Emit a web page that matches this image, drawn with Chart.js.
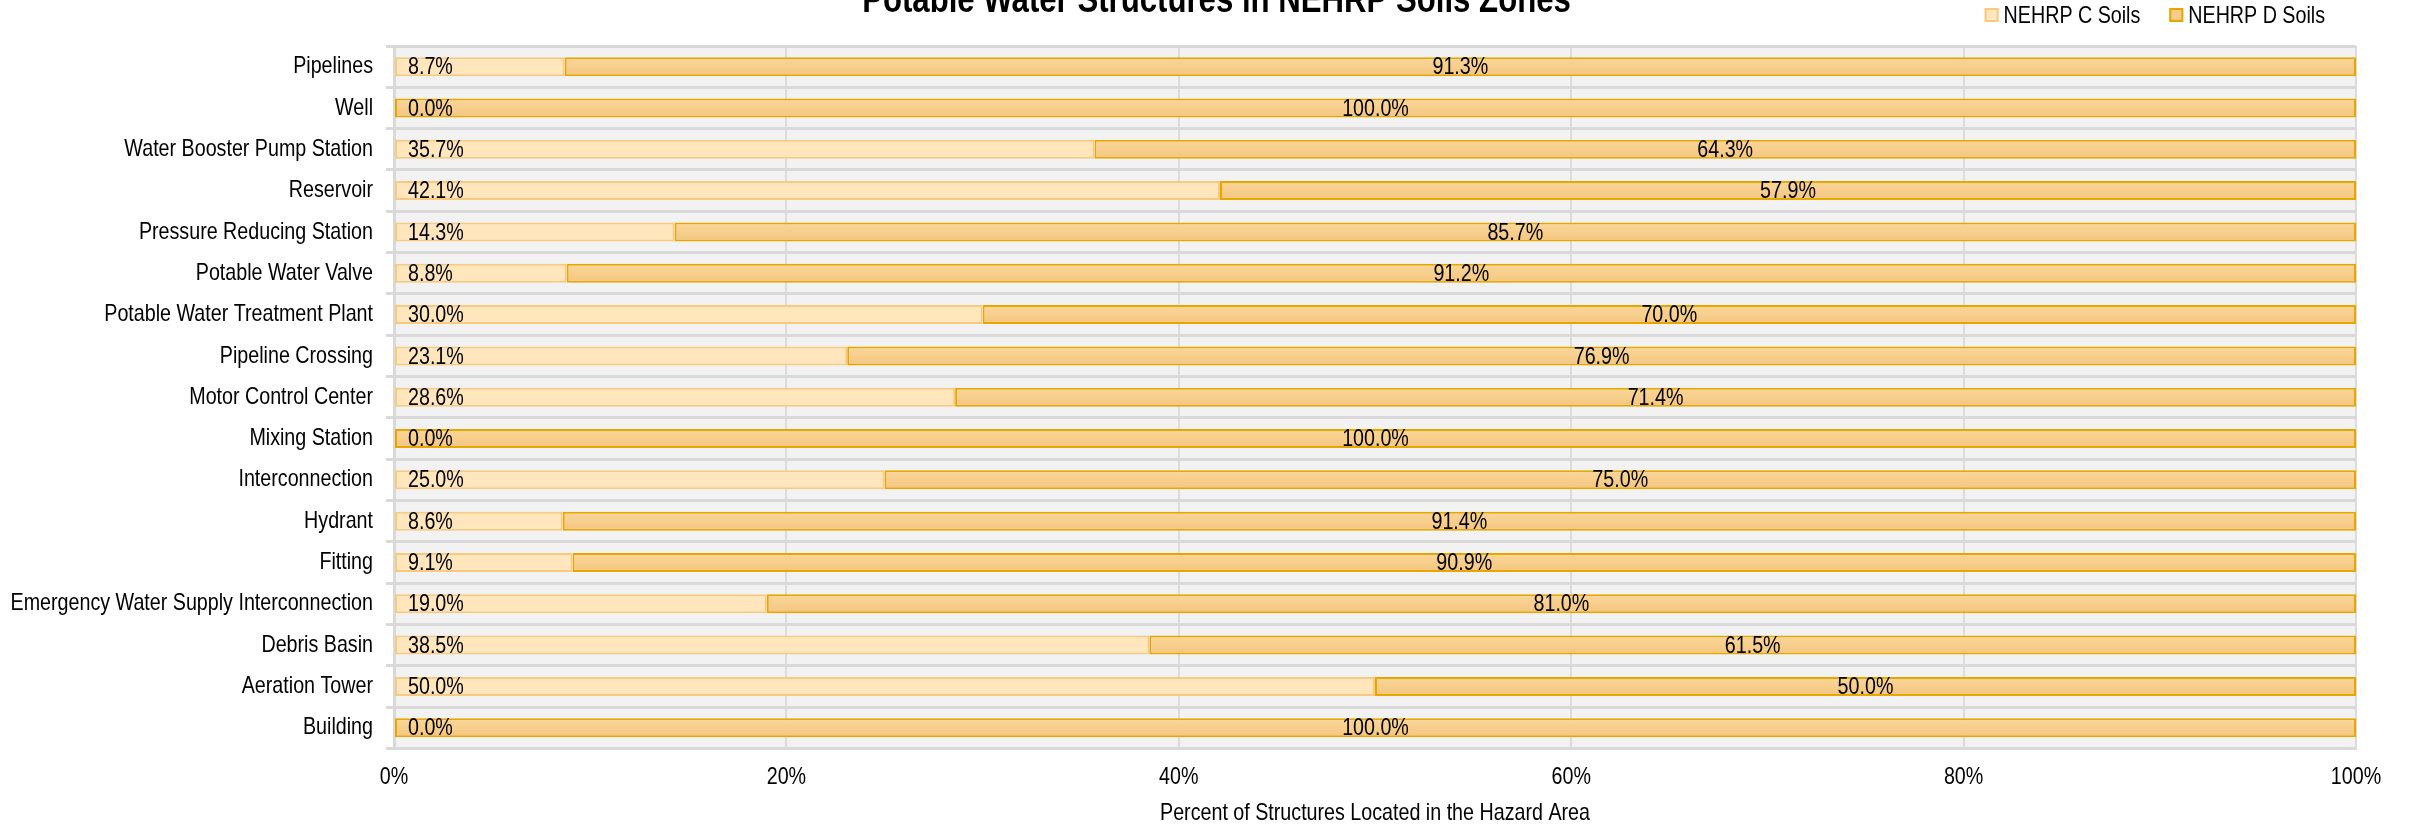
<!DOCTYPE html>
<html>
<head>
<meta charset="utf-8">
<title>Potable Water Structures in NEHRP Soils Zones</title>
<script src="https://cdn.jsdelivr.net/npm/chart.js@4.4.1/dist/chart.umd.min.js"></script>
<style>
  html, body { margin: 0; padding: 0; background: #ffffff; }
  canvas { display: block; }
</style>
</head>
<body>
<canvas id="soilChart" width="2413" height="828"></canvas>
<script>
// structure types, listed top to bottom
const structureTypes = [
    'Pipelines',
    'Well',
    'Water Booster Pump Station',
    'Reservoir',
    'Pressure Reducing Station',
    'Potable Water Valve',
    'Potable Water Treatment Plant',
    'Pipeline Crossing',
    'Motor Control Center',
    'Mixing Station',
    'Interconnection',
    'Hydrant',
    'Fitting',
    'Emergency Water Supply Interconnection',
    'Debris Basin',
    'Aeration Tower',
    'Building'
];

// percent of each structure type per soil class
const soilC = [8.7, 0.0, 35.7, 42.1, 14.3, 8.8, 30.0, 23.1, 28.6, 0.0, 25.0, 8.6, 9.1, 19.0, 38.5, 50.0, 0.0];
const soilD = [91.3, 100.0, 64.3, 57.9, 85.7, 91.2, 70.0, 76.9, 71.4, 100.0, 75.0, 91.4, 90.9, 81.0, 61.5, 50.0, 100.0];

const seriesNames = ['NEHRP C Soils', 'NEHRP D Soils'];
const chartTitle = 'Potable Water Structures in NEHRP Soils Zones';
const axisTitle = 'Percent of Structures Located in the Hazard Area';

const xTickStep = 20;
const xMax = 100;

const FONT = '"Liberation Sans", Arial, sans-serif';
const NARROW = 0.82;   // squeeze text horizontally, like a narrow face

const cFill = '#ffe6bd';
const cEdge = '#f8ca80';
const dFlat = '#f7cd8c';
const dEdge = '#e6a700';

const canvas = document.getElementById('soilChart');
const ctx = canvas.getContext('2d');

// no narrow font installed, so condense all text drawn on this context
const measureText = ctx.measureText.bind(ctx);
const fillText = ctx.fillText.bind(ctx);
ctx.measureText = text => {
    const m = measureText(text);
    return {
        width: m.width * NARROW,
        actualBoundingBoxAscent: m.actualBoundingBoxAscent,
        actualBoundingBoxDescent: m.actualBoundingBoxDescent,
        actualBoundingBoxLeft: m.actualBoundingBoxLeft * NARROW,
        actualBoundingBoxRight: m.actualBoundingBoxRight * NARROW
    };
};
ctx.fillText = (text, x, y, maxWidth) => {
    ctx.save();
    ctx.translate(x, y);
    ctx.scale(NARROW, 1);
    if (maxWidth === undefined || maxWidth === null) {
        fillText(text, 0, 0);
    } else {
        fillText(text, 0, 0, maxWidth / NARROW);
    }
    ctx.restore();
};

// soft top-to-bottom shading on the D bars
function dFill(context) {
    const chart = context.chart;
    const yScale = chart.scales.y;
    if (!yScale || context.dataIndex === undefined) return dFlat;
    const y = yScale.getPixelForValue(context.dataIndex);
    if (!Number.isFinite(y)) return dFlat;
    const g = chart.ctx.createLinearGradient(0, y - 10, 0, y + 10);
    g.addColorStop(0, '#fad79a');
    g.addColorStop(1, '#f4c57f');
    return g;
}

// grey plot background behind the grid
const plotBackground = {
    id: 'plotBackground',
    beforeDraw(chart) {
        const { ctx, chartArea } = chart;
        ctx.save();
        ctx.fillStyle = '#f2f2f2';
        ctx.fillRect(chartArea.left, chartArea.top, chartArea.right - chartArea.left, chartArea.bottom - chartArea.top);
        ctx.restore();
    }
};

// percentage labels: C at the left of the bar, D centred on its segment
const barLabels = {
    id: 'barLabels',
    afterDatasetsDraw(chart) {
        const { ctx, chartArea } = chart;
        ctx.save();
        ctx.font = '24px ' + FONT;
        ctx.fillStyle = '#000000';
        ctx.textBaseline = 'middle';

        chart.getDatasetMeta(0).data.forEach((bar, i) => {
            ctx.textAlign = 'left';
            ctx.fillText(soilC[i].toFixed(1) + '%', chartArea.left + 14, bar.y + 1);
        });
        chart.getDatasetMeta(1).data.forEach((bar, i) => {
            ctx.textAlign = 'center';
            ctx.fillText(soilD[i].toFixed(1) + '%', (bar.x + bar.base) / 2, bar.y + 1);
        });
        ctx.restore();
    }
};

// title across the top and the legend in the top right corner
const headerText = {
    id: 'headerText',
    afterDraw(chart) {
        const { ctx, chartArea } = chart;
        ctx.save();
        ctx.fillStyle = '#000000';
        ctx.font = 'bold 38px ' + FONT;
        ctx.textAlign = 'center';
        ctx.textBaseline = 'alphabetic';
        ctx.fillText(chartTitle, chart.width / 2 + 10, 12);

        ctx.font = '24px ' + FONT;
        ctx.textAlign = 'left';
        ctx.textBaseline = 'middle';
        const box = 14, gap = 5, itemGap = 29, cy = 15;
        const widths = seriesNames.map(n => ctx.measureText(n).width);
        let x = chartArea.right - 31 - widths.reduce((a, w) => a + box + gap + w, 0) - itemGap;
        const fills = [cFill, dFlat];
        const edges = [cEdge, dEdge];
        seriesNames.forEach((name, i) => {
            ctx.fillStyle = fills[i];
            ctx.fillRect(x, cy - box / 2, box, box);
            ctx.strokeStyle = edges[i];
            ctx.lineWidth = 2;
            ctx.strokeRect(x + 1, cy - box / 2 + 1, box - 2, box - 2);
            ctx.fillStyle = '#000000';
            ctx.fillText(name, x + box + gap, cy + 1);
            x += box + gap + widths[i] + itemGap;
        });
        ctx.restore();
    }
};

new Chart(ctx, {
    type: 'bar',
    data: {
        labels: structureTypes,
        datasets: [
            {
                label: seriesNames[0],
                data: soilC,
                backgroundColor: cFill,
                borderColor: cEdge,
                borderWidth: 2,
                borderSkipped: false,
                categoryPercentage: 1,
                barPercentage: 0.46
            },
            {
                label: seriesNames[1],
                data: soilD,
                backgroundColor: dFill,
                borderColor: dEdge,
                borderWidth: 2,
                borderSkipped: false,
                categoryPercentage: 1,
                barPercentage: 0.46
            }
        ]
    },
    options: {
        indexAxis: 'y',
        responsive: false,
        animation: false,
        layout: {
            padding: { top: 46, left: 8, right: 57, bottom: 0 }
        },
        scales: {
            x: {
                stacked: true,
                min: 0,
                max: xMax,
                border: { color: '#d9d9d9', width: 3 },
                grid: { color: '#dcdcdc', lineWidth: 2, drawTicks: false },
                ticks: {
                    stepSize: xTickStep,
                    padding: 15,
                    color: '#000000',
                    font: { family: FONT, size: 24 },
                    callback: v => v + '%'
                },
                title: {
                    display: true,
                    text: axisTitle,
                    color: '#000000',
                    font: { family: FONT, size: 24 },
                    padding: { top: -8, bottom: 0 }
                }
            },
            y: {
                stacked: true,
                border: { color: '#d9d9d9', width: 3 },
                grid: { color: '#d9d9d9', lineWidth: 3, offset: true, tickLength: 8 },
                ticks: {
                    color: '#000000',
                    padding: 13,
                    autoSkip: false,
                    font: { family: FONT, size: 24 }
                },
                afterFit(scale) {
                    scale.width = 386;
                }
            }
        },
        plugins: {
            title: { display: false },
            legend: { display: false },
            tooltip: { enabled: false }
        }
    },
    plugins: [plotBackground, barLabels, headerText]
});
</script>
</body>
</html>
